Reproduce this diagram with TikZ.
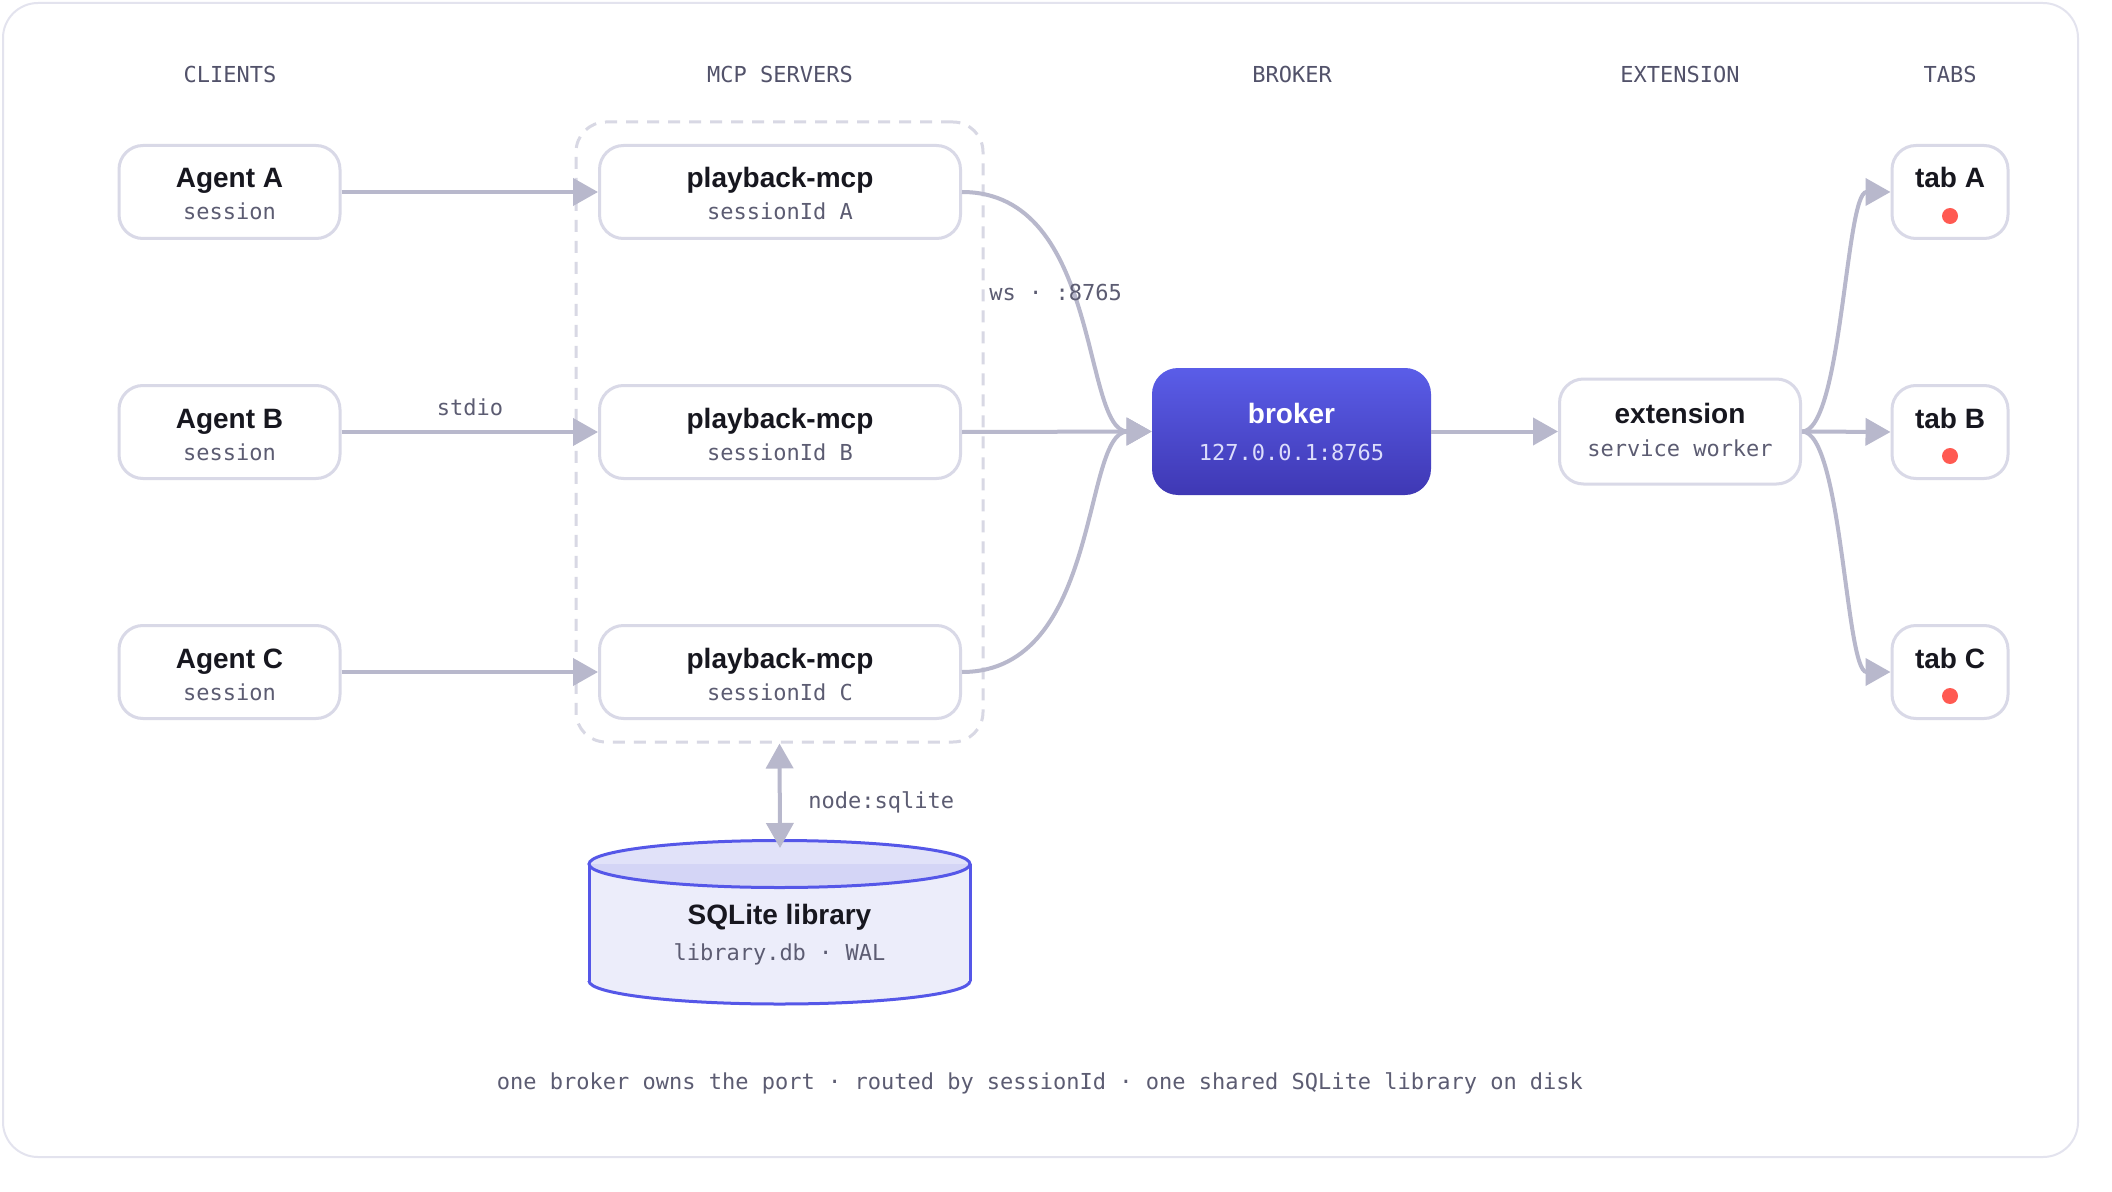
\documentclass[tikz,border=0pt]{standalone}
\usepackage{fontspec}
\setmainfont{Liberation Sans}
\newfontfamily\monofont{DejaVu Sans Mono}
\usetikzlibrary{arrows.meta}
\definecolor{frameC}{HTML}{E3E3EE}
\definecolor{boxC}{HTML}{D9D9E7}
\definecolor{arrowC}{HTML}{B8B8CC}
\definecolor{dashC}{HTML}{D8D8E4}
\definecolor{titleC}{HTML}{17171F}
\definecolor{monoC}{HTML}{5C5C72}
\definecolor{headC}{HTML}{52526A}
\definecolor{brokerTop}{HTML}{5A5DE8}
\definecolor{brokerBot}{HTML}{3F38B4}
\definecolor{brokerSub}{HTML}{DCDDFB}
\definecolor{cylLine}{HTML}{5557E8}
\definecolor{cylBody}{HTML}{ECEDFA}
\definecolor{cylTopA}{HTML}{E1E2F9}
\definecolor{cylTopB}{HTML}{D4D5F6}
\definecolor{dotC}{HTML}{FF5A52}
\begin{document}
\begin{tikzpicture}[x=0.5pt,y=-0.5pt,
  box/.style={draw=boxC, line width=1.5pt, fill=white, rounded corners=12pt, inner sep=0pt},
  agentbox/.style={box, minimum width=110.5pt, minimum height=46.5pt},
  pbox/.style={box, minimum width=180.5pt, minimum height=46.5pt},
  tabbox/.style={box, minimum width=58pt, minimum height=46.5pt},
  extbox/.style={box, minimum width=120.5pt, minimum height=52.5pt},
  title/.style={anchor=base, inner sep=0pt, text=titleC, font=\bfseries\fontsize{14}{16}\selectfont},
  mono/.style={anchor=base, inner sep=0pt, text=monoC, font=\monofont\fontsize{11}{13}\selectfont},
  head/.style={mono, text=headC},
  dot/.style={circle, fill=dotC, minimum size=8pt, inner sep=0pt},
  conn/.style={draw=arrowC, line width=2pt, -{Triangle[length=12.5pt,width=13.5pt]}},
  cylstroke/.style={draw=cylLine, line width=1.5pt},
]
\useasboundingbox (0,0) rectangle (2112,1192);
\draw[frameC, line width=1pt, fill=white, rounded corners=17.5pt] (3,3) rectangle (2078,1157);

% headers
\node[head] (hC) at (230,83) {CLIENTS};
\node[head] (hM) at (780,83) {MCP SERVERS};
\node[head] (hB) at (1292,83) {BROKER};
\node[head] (hE) at (1680,83) {EXTENSION};
\node[head] (hT) at (1950,83) {TABS};

% group
\node[draw=dashC, line width=1.5pt, dash pattern=on 6pt off 4.5pt, rounded corners=15pt,
      minimum width=203.5pt, minimum height=310pt, inner sep=0pt] (grp) at (779.5,432) {};

% agents
\node[agentbox] (agA) at (229.5,192) {};
\node[agentbox] (agB) at (229.5,432) {};
\node[agentbox] (agC) at (229.5,672) {};
\node[title] (agAt) at (229.5,188) {Agent A};
\node[mono] (agAs) at (229.5,220) {session};
\node[title] (agBt) at (229.5,428) {Agent B};
\node[mono] (agBs) at (229.5,460) {session};
\node[title] (agCt) at (229.5,668) {Agent C};
\node[mono] (agCs) at (229.5,700) {session};

% playback servers
\node[pbox] (pA) at (780,192) {};
\node[pbox] (pB) at (780,432) {};
\node[pbox] (pC) at (780,672) {};
\node[title] (pAt) at (780,188) {playback-mcp};
\node[mono] (pAs) at (780,220) {sessionId A};
\node[title] (pBt) at (780,428) {playback-mcp};
\node[mono] (pBs) at (780,460) {sessionId B};
\node[title] (pCt) at (780,668) {playback-mcp};
\node[mono] (pCs) at (780,700) {sessionId C};

% broker
\node[rounded corners=13pt, top color=brokerTop, bottom color=brokerBot,
      minimum width=139.5pt, minimum height=63.5pt, inner sep=0pt] (brk) at (1291.5,431.5) {};
\node[title, text=white] (brkT) at (1291.5,423) {broker};
\node[mono, text=brokerSub] (brkS) at (1291.5,460) {127.0.0.1:8765};

% extension
\node[extbox] (ext) at (1680,431.5) {};
\node[title] (extT) at (1680,423) {extension};
\node[mono] (extS) at (1680,456) {service worker};

% tabs
\node[tabbox] (tA) at (1950,192) {};
\node[tabbox] (tB) at (1950,432) {};
\node[tabbox] (tC) at (1950,672) {};
\node[title] (tAt) at (1950,188) {tab A};
\node[title] (tBt) at (1950,428) {tab B};
\node[title] (tCt) at (1950,668) {tab C};
\node[dot] (dA) at (1950,216) {};
\node[dot] (dB) at (1950,456) {};
\node[dot] (dC) at (1950,696) {};

% cylinder
\fill[cylBody] (589,864) rectangle (970,981);
\fill[cylBody] (779.5,981) ellipse [x radius=95.25pt, y radius=11.5pt];
\begin{scope}
  \clip (575,981) rectangle (985,1015);
  \draw[cylstroke] (779.5,981) ellipse [x radius=95.25pt, y radius=11.5pt];
\end{scope}
\draw[cylstroke] (589,864) -- (589,981) (970,864) -- (970,981);
\fill[cylTopA] (779.5,864) ellipse [x radius=95.25pt, y radius=11.75pt];
\begin{scope}
  \clip (575,864) rectangle (985,900);
  \fill[cylTopB] (779.5,864) ellipse [x radius=95.25pt, y radius=11.75pt];
\end{scope}
\draw[cylstroke] (779.5,864) ellipse [x radius=95.25pt, y radius=11.75pt];
\coordinate (cyltop) at (780,848);
\node[title] (sqlT) at (779.5,924) {SQLite library};
\node[mono] (sqlS) at (779.5,960) {library.db · WAL};

% connectors
\draw[conn] (agA.east) -- (pA.west);
\draw[conn] (agB.east) -- (pB.west);
\draw[conn] (agC.east) -- (pC.west);
\draw[conn] (pA.east) .. controls +(140,0) and +(-70,0) .. (brk.west);
\draw[conn] (pB.east) -- (brk.west);
\draw[conn] (pC.east) .. controls +(140,0) and +(-70,0) .. (brk.west);
\draw[conn] (brk.east) -- (ext.west);
\draw[conn] (ext.east) .. controls +(40,0) and +(-45,0) .. (tA.west);
\draw[conn] (ext.east) -- (tB.west);
\draw[conn] (ext.east) .. controls +(40,0) and +(-45,0) .. (tC.west);
\draw[draw=arrowC, line width=2pt, {Triangle[length=12.5pt,width=13.5pt]}-{Triangle[length=12.5pt,width=13.5pt]}] (grp.south) -- (cyltop);

% labels
\node[mono] (stdioL) at (470,415) {stdio};
\node[mono, anchor=base west] (wsL) at (989,300) {ws · :8765};
\node[mono, anchor=base west] (sqlL) at (808,808) {node:sqlite};
\node[mono] (foot) at (1040,1089) {one broker owns the port · routed by sessionId · one shared SQLite library on disk};
\end{tikzpicture}
\end{document}
